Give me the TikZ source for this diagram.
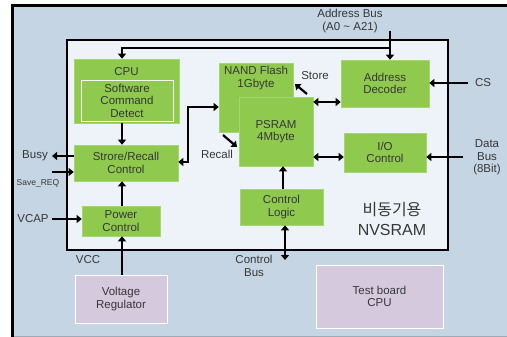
\documentclass[tikz,border=0pt]{standalone}
\usepackage{fontspec}
\setmainfont{Liberation Sans}
\newfontfamily\kr{Noto Sans CJK KR}
\usetikzlibrary{arrows.meta}
\definecolor{outerbg}{RGB}{197,213,228}
\definecolor{innerbg}{RGB}{238,243,249}
\definecolor{grn}{RGB}{143,201,78}
\definecolor{grnedge}{RGB}{165,215,110}
\definecolor{lav}{RGB}{213,201,222}
\definecolor{txt}{RGB}{55,55,55}
\tikzset{
  blk/.style={rectangle, fill=grn, draw=grnedge, line width=0.6pt, inner sep=0pt, text=txt, align=center, font=\fontsize{11.5}{12.5}\selectfont},
  ext/.style={rectangle, fill=lav, draw=white, line width=1pt, inner sep=0pt, text=txt, align=center, font=\fontsize{11.5}{12.5}\selectfont},
  lbl/.style={text=txt, align=center, inner sep=0pt, font=\fontsize{11.5}{12.5}\selectfont},
  sml/.style={text=txt, align=center, inner sep=0pt, font=\fontsize{8.5}{10}\selectfont},
  wire/.style={line width=2.6pt, draw=black},
  arr/.style={wire, -{Triangle[width=8pt,length=5pt]}},
  darr/.style={wire, {Triangle[width=8pt,length=5pt]}-{Triangle[width=8pt,length=5pt]}},
}
\begin{document}
\begin{tikzpicture}[x=1pt,y=-1pt]
\useasboundingbox (0,0) rectangle (507,337);
% outer panel
\fill[outerbg] (12,5) rectangle (507,336);
\draw[line width=0.8pt, draw=outerbg!80!black] (12,336) -- (507,336);
\draw[line width=2.6pt] (12.5,337) -- (12.5,5.5) -- (507,5.5);
% inner panel
\draw[line width=2.6pt, fill=innerbg] (67,40) rectangle (448,250);

% blocks
\node[blk, minimum width=105pt, minimum height=64pt] (cpu) at (126.5,91) {};
\node[lbl] (cpul) at (126.5,72) {CPU};
\node[blk, draw=white, line width=0.8pt, minimum width=92pt, minimum height=41pt] (scd) at (127,100.5) {Software\\Command\\Detect};
\node[blk, minimum width=74pt, minimum height=69pt] (nand) at (256,97.5) {};
\node[lbl] (nandl) at (256,78) {NAND Flash\\1Gbyte};
\node[blk, minimum width=74pt, minimum height=69pt] (psram) at (276,131.5) {PSRAM\\4Mbyte};
\node[blk, minimum width=88pt, minimum height=47pt] (addr) at (385,83.5) {Address\\Decoder};
\node[blk, minimum width=82pt, minimum height=39pt] (io) at (385,152.5) {I/O\\Control};
\node[blk, minimum width=104pt, minimum height=36pt] (src) at (126,163) {Strore/Recall\\Control};
\node[blk, minimum width=78pt, minimum height=30pt] (pwr) at (121,221) {Power\\Control};
\node[blk, minimum width=83pt, minimum height=36pt] (ctl) at (281.5,207) {Control\\Logic};
\node[ext, minimum width=92pt, minimum height=48pt] (vreg) at (121,299) {Voltage\\Regulator};
\node[ext, minimum width=127pt, minimum height=63pt] (test) at (379.5,296.5) {Test board\\CPU};

% labels
\node[lbl] (abus) at (350,21) {Address Bus\\(A0 \textasciitilde{} A21)};
\node[lbl] (cs) at (483,83) {CS};
\node[lbl] (dbus) at (487,157.5) {Data\\Bus\\(8Bit)};
\node[lbl] (busy) at (35,156) {Busy};
\node[sml] (savereq) at (38,183) {Save\_REQ};
\node[lbl] (vcap) at (33,219) {VCAP};
\node[lbl] (vcc) at (88,260) {VCC};
\node[lbl] (cbus) at (254,266) {Control\\Bus};
\node[lbl] (store) at (315,76) {Store};
\node[lbl] (recall) at (217,154) {Recall};
\node[text=txt, align=center, inner sep=0pt, font=\fontsize{16}{20}\selectfont] (nv) at (392,219) {{\kr 비동기용}\\NVSRAM};

% coordinates
\coordinate (abtop) at (390,31);
\coordinate (csend) at (468,83);
\coordinate (dbend) at (463,157);
\coordinate (busyend) at (52,156);
\coordinate (saveend) at (52,172);
\coordinate (vcapend) at (52,219);
\coordinate (cbend) at (285,260);

% connectors
\draw[arr] (abtop) -- (abtop |- addr.north);
\draw[arr] (390,48) -- (122,48) -- (122,48 |- cpu.north);
\draw[arr] (csend) -- (csend -| addr.east);
\draw[arr] (dbend) -- (dbend -| io.east);
\draw[darr] (psram.east |- 0,102) -- (addr.west |- 0,102);
\draw[darr] (psram.east |- 0,157) -- (io.west |- 0,157);
\draw[arr, line width=2.2pt] (307,94) -- (295,84);
\draw[arr, line width=2.2pt] (223,135) -- (237,147);
\draw[darr] (src.east |- 0,162) -- (188,162) -- (188,107) -- (nand.west |- 0,107);
\draw[arr] (122,0 |- cpu.south) -- (122,0 |- src.north);
\draw[arr] (src.west |- busyend) -- (busyend);
\draw[arr] (saveend) -- (saveend -| src.west);
\draw[arr] (vcapend) -- (vcapend -| pwr.west);
\draw[arr] (122,0 |- pwr.north) -- (122,0 |- src.south);
\draw[arr] (122,0 |- vreg.north) -- (122,0 |- pwr.south);
\draw[arr] (283,0 |- ctl.north) -- (283,0 |- psram.south);
\draw[darr] (285,0 |- ctl.south) -- (cbend);
\end{tikzpicture}
\end{document}
